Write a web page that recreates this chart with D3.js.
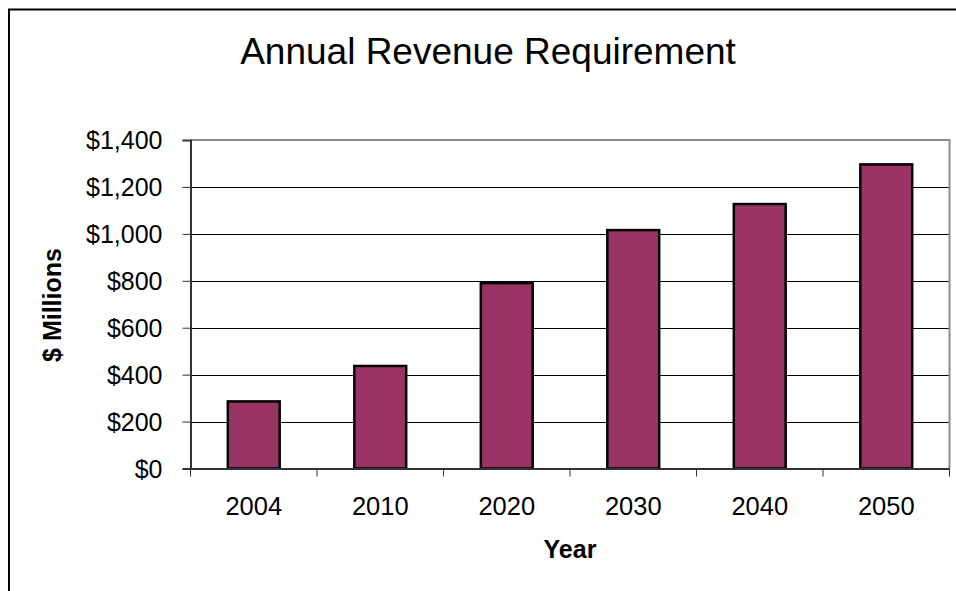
<!DOCTYPE html>
<html>
<head>
<meta charset="utf-8">
<script src="https://cdn.jsdelivr.net/npm/d3@7"></script>
<style>
  html, body { margin: 0; padding: 0; background: #fff; }
  svg { display: block; font-family: "Liberation Sans", Arial, sans-serif; }
</style>
</head>
<body>
<svg id="chart" width="956" height="591"></svg>
<script>
// Revenue requirement by year, $ millions
const years = ["2004", "2010", "2020", "2030", "2040", "2050"];
const revenue = [286, 437, 790, 1016, 1127, 1296];
const yTicks = [0, 200, 400, 600, 800, 1000, 1200, 1400];

const svg = d3.select("#chart");
const W = 956, H = 591;
const plot = { left: 190.5, right: 949.5, top: 140, bottom: 468.5 };

// Outer chart frame (runs off the right and bottom edges)
svg.append("path")
  .attr("d", `M9,${H + 5} V9.5 H${W + 5}`)
  .attr("fill", "none")
  .attr("stroke", "#000")
  .attr("stroke-width", 2);

const x = d3.scaleBand()
  .domain(years)
  .range([plot.left, plot.right])
  .paddingInner(0.59)
  .paddingOuter(0.295);

const y = d3.scaleLinear()
  .domain([0, 1400])
  .range([plot.bottom, plot.top]);

// Horizontal gridlines
svg.append("g")
  .selectAll("line")
  .data(yTicks.filter(d => d > 0 && d < 1400))
  .join("line")
  .attr("x1", plot.left).attr("x2", plot.right)
  .attr("y1", d => Math.round(y(d)) + 0.5).attr("y2", d => Math.round(y(d)) + 0.5)
  .attr("stroke", "#000")
  .attr("stroke-width", 1);

// Plot-area border (top and right)
svg.append("path")
  .attr("d", `M${plot.left},${plot.top} H${plot.right} V${plot.bottom}`)
  .attr("fill", "none")
  .attr("stroke", "#8c8c8c")
  .attr("stroke-width", 2);

// Bars
svg.append("g")
  .selectAll("rect")
  .data(years.map((yr, i) => ({ yr, v: revenue[i] })))
  .join("rect")
  .attr("x", d => x(d.yr))
  .attr("width", x.bandwidth())
  .attr("y", d => y(d.v))
  .attr("height", d => y(0) - y(d.v))
  .attr("fill", "#993366")
  .attr("stroke", "#000")
  .attr("stroke-width", 2.5);

// Y axis
const yAxis = d3.axisLeft(y)
  .tickValues(yTicks)
  .tickSize(8)
  .tickPadding(20)
  .tickFormat(d => "$" + d3.format(",")(d));

const gy = svg.append("g")
  .attr("transform", `translate(${plot.left},0)`)
  .call(yAxis);
gy.select(".domain").attr("stroke", "#333").attr("stroke-width", 2);
gy.selectAll(".tick line").attr("stroke", "#333").attr("stroke-width", 1);
gy.selectAll(".tick text")
  .attr("font-size", 25)
  .attr("font-family", "Liberation Sans, Arial, sans-serif")
  .attr("fill", "#000")
  .attr("dy", "0.35em");

// X axis with ticks at category boundaries
const xAxis = d3.axisBottom(x).tickSize(0).tickPadding(28);
const gx = svg.append("g")
  .attr("transform", `translate(0,${plot.bottom})`)
  .call(xAxis);
gx.select(".domain").attr("stroke", "#333").attr("stroke-width", 2);
gx.selectAll(".tick text")
  .attr("font-size", 25.5)
  .attr("font-family", "Liberation Sans, Arial, sans-serif")
  .attr("fill", "#000");

const step = x.step();
svg.append("g")
  .selectAll("line")
  .data(d3.range(years.length + 1))
  .join("line")
  .attr("x1", i => plot.left + i * step)
  .attr("x2", i => plot.left + i * step)
  .attr("y1", plot.bottom)
  .attr("y2", plot.bottom + 8)
  .attr("stroke", "#333")
  .attr("stroke-width", 1);

// Title
svg.append("text")
  .attr("x", 488)
  .attr("y", 64)
  .attr("text-anchor", "middle")
  .attr("font-size", 37)
  .attr("fill", "#000")
  .text("Annual Revenue Requirement");

// Axis titles
svg.append("text")
  .attr("x", 570)
  .attr("y", 558)
  .attr("text-anchor", "middle")
  .attr("font-size", 25)
  .attr("font-weight", "bold")
  .attr("fill", "#000")
  .text("Year");

svg.append("text")
  .attr("transform", "translate(61,305) rotate(-90)")
  .attr("text-anchor", "middle")
  .attr("font-size", 25)
  .attr("font-weight", "bold")
  .attr("fill", "#000")
  .text("$ Millions");
</script>
</body>
</html>
